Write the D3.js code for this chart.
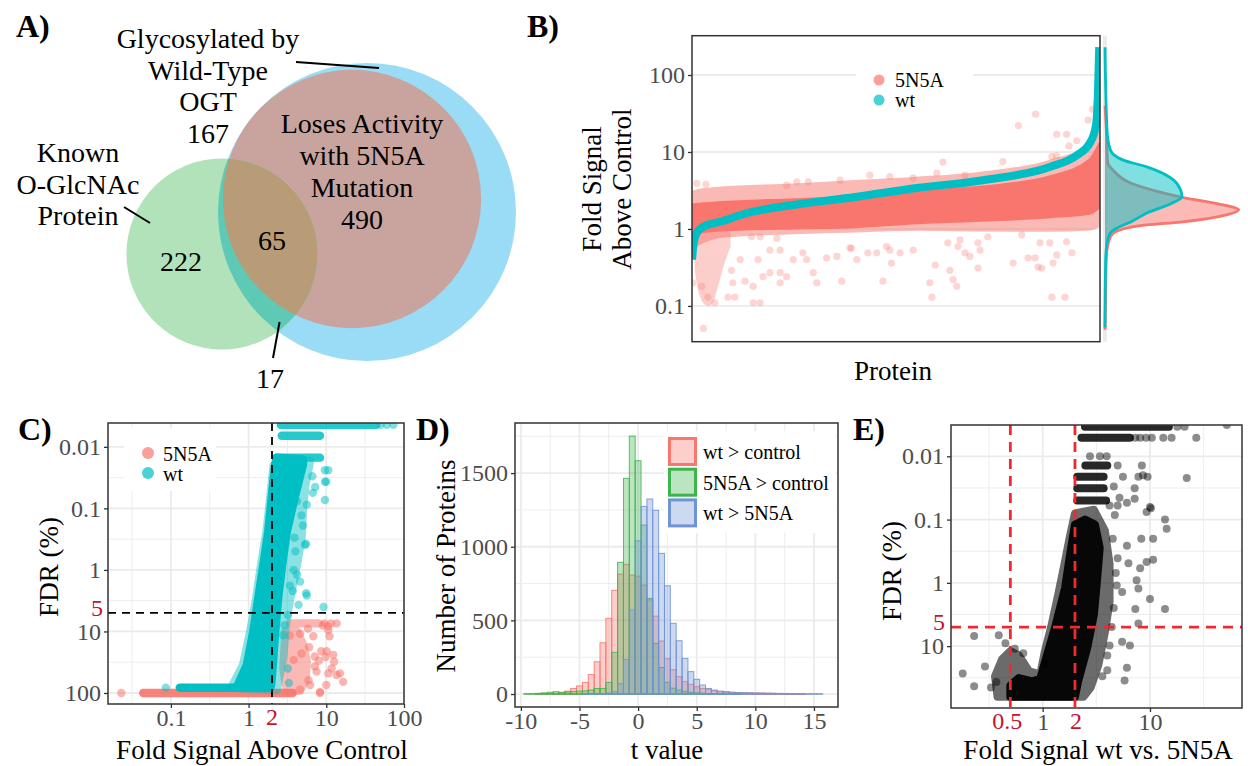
<!DOCTYPE html>
<html>
<head>
<meta charset="utf-8">
<script src="https://cdn.jsdelivr.net/npm/d3@7"></script>
<style>
  body { margin: 0; background: #fff; }
  svg { font-family: "Liberation Serif", "Times New Roman", "DejaVu Serif", serif; }
</style>
</head>
<body>
<svg id="fig" width="1248" height="766"></svg>
<script>
// ---------------- data ----------------
// A) venn region counts: wt only, wt & loses activity, known only, known & loses, known & wt only
const vennCounts = [167, 490, 222, 65, 17];
const vennTitles = [["Glycosylated by", "Wild-Type", "OGT"], ["Loses Activity", "with 5N5A", "Mutation"], ["Known", "O-GlcNAc", "Protein"]];

// B) sorted wt fold signal (protein rank in %, fold)
const wtRank = [0, 0.4, 1.1, 2.8, 6.9, 13.4, 24.8, 40, 55.1, 71.3, 87.7, 94.4, 97.5, 99.0, 99.5, 99.8];
const wtFold = [0.40, 0.65, 0.88, 1.07, 1.24, 1.6, 2.05, 2.6, 3.4, 4.3, 6.4, 9.1, 13, 22, 60, 230];
// 5N5A cloud: dense core and looser fringe (rank, low, high)
const coreRank = [0, 7, 25, 40, 55, 71, 88, 97.5, 100];
const coreLo = [0.89, 0.97, 1.03, 1.07, 1.2, 1.3, 1.44, 1.6, 1.95];
const coreHi = [2.05, 2.2, 2.4, 2.6, 3.05, 3.5, 4.8, 7.9, 13];
const fringeRank = [0, 2, 7, 25, 40, 55, 71, 88, 97.5, 100];
const fringeLo = [0.62, 0.7, 0.85, 0.95, 1.0, 1.05, 1.03, 1.02, 1.06, 1.2];
const fringeHi = [2.8, 3.0, 3.2, 3.5, 3.9, 4.3, 5.0, 7.2, 11.6, 17];
const plumeRank = [1.5, 2.5, 4, 5.5, 7, 8.6];
const plumeLo = [0.3, 0.15, 0.11, 0.18, 0.35, 0.6];
const plumeHi = [0.85, 0.85, 0.85, 0.85, 0.85, 0.85];
const bOutliers = [[1.2,3.9],[3.4,3.8],[2.8,0.051],[0.2,0.20],[2.4,0.18],[3.9,0.13],[5.6,0.11],[8.8,0.13],[10.5,0.13],[10.0,0.20],[9.7,0.29],[11.8,0.40],[13.0,0.21],[15.0,0.18],[15.0,0.11],[16.7,0.11],[16.2,0.40],[17.4,0.24],[19.1,0.27],[21.6,0.27],[21.6,0.20],[23.2,0.24],[19.1,0.53],[21.6,0.53],[24.8,0.40],[27.2,0.49],[28.1,0.40],[29.7,0.27],[30.6,0.20],[33.0,0.42],[35.5,0.44],[36.7,0.21],[39.1,0.56],[40.4,0.40],[16.7,0.79],[20.8,0.76],[25.7,4.1],[28.5,4.1],[23.2,3.7],[36.3,4.3],[14.6,0.79],
  [84.2,31],[80.0,22],[89.4,17],[91.8,17],[94.3,14],[92.4,12],[97.1,26],[98.2,36],[88.2,8.7],[89.4,8.9],[76.2,7.5],[61.5,7.4],[60.0,5.3],[43.6,5.0],[48.5,4.8],[54.2,4.6],[66.9,5.0],
  [38.7,0.57],[43.1,0.49],[45.3,0.49],[47.7,0.59],[48.5,0.53],[51.0,0.49],[54.2,0.53],[48.9,0.36],[46.8,0.21],[58.3,0.20],[58.8,0.13],[59.6,0.34],[63.2,0.29],[64.0,0.22],[64.9,0.18],[62.7,0.66],[65.2,0.59],[65.7,0.72],[66.9,0.49],[68.1,0.44],[70.6,0.53],[70.1,0.31],[70.1,0.66],[72.5,0.79],[78.7,0.36],[80.8,0.84],[82.4,0.42],[84.1,0.42],[84.8,0.32],[85.7,0.31],[85.3,0.66],[87.7,0.66],[88.5,0.36],[89.4,0.46],[91.8,0.68],[93.1,0.49],[88.2,0.13],[91.4,0.13]];
// B) marginal densities (fold, relative density)
const densRedFold = [0.049, 0.16, 0.43, 0.79, 0.97, 1.13, 1.23, 1.52, 1.77, 2.18, 2.6, 2.94, 3.95, 5.8, 7.2, 19.3, 40];
const densRed = [0, 0.005, 0.01, 0.04, 0.11, 0.31, 0.56, 0.90, 0.99, 0.80, 0.56, 0.43, 0.19, 0.06, 0.02, 0.01, 0];
const densWtFold = [0.053, 0.4, 0.66, 0.89, 1.03, 1.23, 1.61, 2.18, 2.6, 3.2, 4.7, 6.4, 7.9, 10.6, 19.3, 230];
const densWt = [0, 0.005, 0.015, 0.04, 0.09, 0.19, 0.31, 0.50, 0.57, 0.56, 0.48, 0.31, 0.13, 0.04, 0.015, 0];
const foldTicks = [0.1, 1, 10, 100];
const foldLabels = ["0.1", "1", "10", "100"];

// C) FDR vs fold (fold, FDR %)
const cBandFdr = [100, 82];          // 5N5A, wt
const cBandFrom = [0.044, 0.13];
const cBandTo = [3.7, 1.1];
const cRedCore = [[3.0,10],[4.2,10],[5.0,16],[5.6,30],[5.4,60],[4.6,92],[3.1,92],[2.8,40]];
const cRedRowFdr = [7.4];
const cRedRowFrom = [3.4];
const cRedRowTo = [8];
const cRedPoints = [[0.023,100],[7.5,45],[13.6,51],[16.5,66],[10.6,48],[8.3,100],[6.2,74],[12.3,24],[10.1,21],[10,74],[15,48],[11.7,40],[10.6,9.5],[13.6,7.4],[4.6,10.9],[3.4,11.7],[4.8,22.8],[3.8,29],[7.1,25.5],[7.1,37],[5.9,62],[4.6,88],[8.3,96],[9,8],[11,12],[6,18],[8,30],[9.5,7.4],[11.5,7.4],[10.5,8.2],[6.8,12],[5.8,9],[8.6,21],[9.8,26],[12.6,31]];
const cWtCore = [[0.70,82],[0.95,35],[1.15,10],[1.33,2.9],[1.55,0.83],[1.79,0.24],[1.98,0.068],[2.19,0.0196],[2.3,0.015],[5.0,0.016],[5.0,0.0196],[3.9,0.068],[3.1,0.24],[2.7,0.83],[2.4,2.9],[2.2,10],[2.05,35],[1.95,74],[1.9,82]];
const cWtFringe = [[0.6,82],[0.85,35],[1.05,10],[1.25,2.9],[1.45,0.83],[1.7,0.24],[1.9,0.068],[2.1,0.02],[6.2,0.017],[5.4,0.04],[5.0,0.1],[4.8,0.3],[4.2,0.8],[3.5,2.5],[3.0,8],[2.8,25],[2.3,90]];
const cWtRowFdr = [0.015, 0.0066, 0.0044];
const cWtRowFrom = [2.3, 2.67, 2.6];
const cWtRowTo = [8.3, 8.3, 44];
const cWtPoints = [[9.6,0.024],[9.6,0.037],[9.6,0.073],[6.7,0.056],[5.6,0.087],[4.2,0.077],[5.0,0.19],[5.3,0.39],[4.6,1.55],[5.6,2.6],[4.4,3.7],[9.2,4.0],[4.2,1.2],[3.7,2.2],[3.2,5.4],[2.9,7.9],[2.8,11.5],[3.2,40],[3.3,69],[0.086,82],[10.6,0.024],[10,0.037],[5.5,0.38],[5.5,2.4],[73,0.0044],[60,0.0044],[50,0.0044],[6.6,0.03],[7.2,0.045],[4.8,0.13],[4.0,0.5],[3.8,1.0],[3.4,1.8],[3.9,0.3]];
const fdrTicks = [0.01, 0.1, 1, 10, 100];
const fdrLabels = ["0.01", "0.1", "1", "10", "100"];
const cFoldTicks = [0.1, 1, 10, 100];
const cFoldLabels = ["0.1", "1", "10", "100"];

// D) t value histograms, bin width 0.5
const histT = [-9.5,-9,-8.5,-8,-7.5,-7,-6.5,-6,-5.5,-5,-4.5,-4,-3.5,-3,-2.5,-2,-1.5,-1,-0.5,0,0.5,1,1.5,2,2.5,3,3.5,4,4.5,5,5.5,6,6.5,7,7.5,8,8.5,9,9.5,10,10.5,11,11.5,12,12.5,13,13.5,14,14.5,15,15.5];
const histWtCtrl = [0,0,1,2,3,5,10,20,38,55,79,132,219,348,514,704,814,880,808,800,740,640,529,360,240,165,118,84,66,50,38,32,23,16,16,12,10,9,8,7,7,6,5,4,3,2,1,1,0,0,0];
const histMutCtrl = [2,3,5,8,12,16,12,14,18,20,22,27,38,38,79,283,894,1464,1751,1584,1147,649,344,180,80,40,27,18,12,8,6,4,3,2,2,1,1,0,0,0,0,0,0,0,0,0,0,0,0,0,0];
const histWtMut = [0,0,0,0,0,0,0,0,0,0,1,1,2,4,8,16,70,235,570,1040,1274,1324,1247,955,735,480,362,242,152,100,61,38,27,20,15,12,10,9,8,7,6,5,5,4,4,3,3,2,2,2,1];
const histNames = ["wt > control", "5N5A > control", "wt > 5N5A"];
const tTicks = [-10, -5, 0, 5, 10, 15];
const countTicks = [0, 500, 1000, 1500];

// E) FDR vs fold wt vs 5N5A
const eCore = [[0.5,63],[0.5,42],[0.6,32],[0.8,36],[0.95,33],[1.05,18],[1.3,5.2],[1.62,1.2],[1.8,0.36],[2.0,0.12],[2.48,0.1],[3.07,0.12],[3.4,0.28],[3.2,0.97],[3.0,3.2],[2.6,10.7],[2.13,37],[2.0,63]];
const eFringe = [[0.38,63],[0.36,30],[0.42,16],[0.5,12],[0.6,14],[0.75,25],[0.95,28],[1.05,12],[1.2,5],[1.4,1.5],[1.6,0.5],[1.8,0.18],[2.0,0.08],[3.0,0.07],[3.8,0.15],[4.2,0.5],[4.2,2],[3.8,6],[3.3,20],[2.8,45],[2.4,63]];
const eRowFdr = [0.0034, 0.0051, 0.014, 0.021, 0.032, 0.05];
const eRowFrom = [2.48, 2.3, 2.5, 2.1, 2.1, 2.1];
const eRowTo = [15, 6.5, 4.0, 3.7, 3.7, 3.9];
const ePoints = [[0.18,27],[0.23,43],[0.23,6.9],[0.39,6.7],[0.29,21],[0.37,37],[0.55,11],[0.66,13],[1.05,19],[6.1,22],[5.8,35],[4.0,24],[6.5,9.8],[5.5,8.5],[4.2,9.8],[7.8,4.4],[7.3,2.6],[13.8,2.6],[10,1.8],[7.5,0.91],[7.8,1.23],[5.5,1.4],[4.9,1.1],[9.3,0.47],[10.7,0.43],[8.1,0.59],[6.3,0.49],[5.0,0.41],[10.7,0.2],[8.3,0.2],[6.1,0.26],[13.8,0.1],[14.3,0.14],[9.3,0.076],[10.2,0.066],[7.2,0.047],[6.1,0.054],[5.0,0.06],[4.2,0.06],[4.7,0.085],[7.2,0.032],[7.8,0.021],[9.5,0.021],[8.4,0.014],[22,0.022],[5.6,0.021],[5.0,0.014],[13.3,0.0051],[27,0.0051],[10.4,0.0051],[52,0.0032],[2.76,0.01],[3.42,0.01],[3.95,0.01],[7.3,0.0051],[8.1,0.0051],[9.2,0.0051],[15.9,0.0051],[18,0.0034],[21,0.0034],[8.6,0.02],[10,0.063],[4.6,0.03],[5.2,0.045],[4.5,0.2],[4.8,0.7],[4.6,2.5],[4.4,5],[4.0,14],[3.6,30],[0.45,9],[0.33,45]];
const eFdrTicks = [0.01, 0.1, 1, 10];
const eFdrLabels = ["0.01", "0.1", "1", "10"];
const eFoldTicks = [1, 10];
const eFoldLabels = ["1", "10"];

// ---------------- drawing ----------------
const serif = '"Liberation Serif", "Times New Roman", "DejaVu Serif", serif';
const red = "#F8766D", teal = "#00BFC4", thr = "#c4122f";
const gridCol = "#ebebeb";
const tickSize = 24, titleSize = 27;
const svg = d3.select("#fig").attr("font-family", serif);
const defs = svg.append("defs");

function clip(id, x0, x1, y0, y1) {
  defs.append("clipPath").attr("id", id).append("rect")
    .attr("x", x0).attr("y", y0).attr("width", x1 - x0).attr("height", y1 - y0);
  return svg.append("g").attr("clip-path", "url(#" + id + ")");
}

function grid(scale, values, horiz, from, to, w) {
  svg.append("g").selectAll("line").data(values).join("line")
    .attr(horiz ? "y1" : "x1", d => scale(d)).attr(horiz ? "y2" : "x2", d => scale(d))
    .attr(horiz ? "x1" : "y1", from).attr(horiz ? "x2" : "y2", to)
    .attr("stroke", gridCol).attr("stroke-width", w);
}

function border(x0, x1, y0, y1) {
  svg.append("rect").attr("x", x0).attr("y", y0).attr("width", x1 - x0).attr("height", y1 - y0)
    .attr("fill", "none").attr("stroke", "#333").attr("stroke-width", 1.5);
}

function styleAxis(ax) {
  ax.attr("font-family", serif).attr("font-size", tickSize);
  ax.select(".domain").remove();
  ax.selectAll(".tick line").attr("stroke", "#333").attr("stroke-width", 1.3);
  ax.selectAll(".tick text").attr("fill", "#4d4d4d");
}

function leftAxis(scale, x, values, labels) {
  const ax = svg.append("g").attr("transform", "translate(" + x + ",0)")
    .call(d3.axisLeft(scale).tickValues(values).tickFormat((d, i) => labels[i]).tickSize(4).tickPadding(3));
  styleAxis(ax);
}

function bottomAxis(scale, y, values, labels) {
  const ax = svg.append("g").attr("transform", "translate(0," + y + ")")
    .call(d3.axisBottom(scale).tickValues(values).tickFormat((d, i) => labels[i]).tickSize(4).tickPadding(1));
  styleAxis(ax);
}

function label(x, y, s, size, opts) {
  opts = opts || {};
  const t = svg.append("text").attr("x", x).attr("y", y).text(s)
    .attr("font-family", serif)
    .attr("font-size", size).attr("fill", opts.fill || "#000")
    .attr("text-anchor", opts.anchor || "middle")
    .attr("font-weight", opts.bold ? "bold" : null);
  if (opts.rotate) t.attr("x", null).attr("y", null)
    .attr("transform", "translate(" + x + "," + y + ") rotate(-90)");
  return t;
}

function blob(g, xs, ys, pts, color, w, op) {
  g.append("g").attr("opacity", op).append("path")
    .attr("d", d3.line().x(d => xs(d[0])).y(d => ys(d[1])).curve(d3.curveLinearClosed)(pts))
    .attr("fill", color).attr("stroke", color).attr("stroke-width", w).attr("stroke-linejoin", "round");
}

function rows(g, xs, ys, fdr, from, to, color, w, op) {
  g.append("g").selectAll("line").data(fdr).join("line")
    .attr("x1", (d, i) => xs(from[i])).attr("x2", (d, i) => xs(to[i]))
    .attr("y1", d => ys(d)).attr("y2", d => ys(d))
    .attr("stroke", color).attr("stroke-width", w).attr("stroke-linecap", "round").attr("stroke-opacity", op);
}

function dots(g, xs, ys, pts, color, r, op) {
  g.append("g").selectAll("circle").data(pts).join("circle")
    .attr("cx", d => xs(d[0])).attr("cy", d => ys(d[1])).attr("r", r)
    .attr("fill", color).attr("fill-opacity", op);
}

function minorLog(values) {
  return values.slice(0, -1).map((v, i) => Math.sqrt(v * values[i + 1]));
}

// ---- A) Venn ----
const wtTotal = vennCounts[0] + vennCounts[1] + vennCounts[3] + vennCounts[4];
const lossTotal = vennCounts[1] + vennCounts[3];
const knownTotal = vennCounts[2] + vennCounts[3] + vennCounts[4];
const rV = d3.scaleSqrt().domain([0, wtTotal]).range([0, 149]);
const cWt = { x: 367, y: 212, r: rV(wtTotal) };
const cLoss = { x: 352, y: 199, r: rV(lossTotal) };
const cKnown = { x: 222, y: 254, r: rV(knownTotal) };
defs.append("clipPath").attr("id", "vWt").append("circle").attr("cx", cWt.x).attr("cy", cWt.y).attr("r", cWt.r);
defs.append("clipPath").attr("id", "vLoss").append("circle").attr("cx", cLoss.x).attr("cy", cLoss.y).attr("r", cLoss.r);
const venn = svg.append("g");
[[cWt, "#9ADCF5", null], [cLoss, "#C9A49E", null], [cKnown, "#B2E2B9", null],
 [cKnown, "#5ECAB6", "vWt"], [cKnown, "#B89C77", "vLoss"]].forEach(([c, f, cp]) => {
  venn.append("circle").attr("cx", c.x).attr("cy", c.y).attr("r", c.r).attr("fill", f)
    .attr("clip-path", cp ? "url(#" + cp + ")" : null);
});
const vennSize = 28;
vennTitles[0].concat([String(vennCounts[0])]).forEach((s, i) => label(208, 48 + i * 31.7, s, vennSize));
vennTitles[1].concat([String(vennCounts[1])]).forEach((s, i) => label(362, 133 + i * 32, s, vennSize));
vennTitles[2].forEach((s, i) => label(78, 162 + i * 31.5, s, vennSize));
label(181, 271, String(vennCounts[2]), vennSize);
label(272, 250, String(vennCounts[3]), vennSize);
label(270, 388, String(vennCounts[4]), vennSize);
[[296, 62, 379, 68], [124, 207, 150, 223], [279.6, 322, 273, 358]].forEach(l => {
  svg.append("line").attr("x1", l[0]).attr("y1", l[1]).attr("x2", l[2]).attr("y2", l[3])
    .attr("stroke", "#000").attr("stroke-width", 2);
});
label(16, 37, "A)", 32, { anchor: "start", bold: true });

// ---- B) ----
const xB = d3.scaleLinear().domain([0, 100]).range([692, 1100]);
const yB = d3.scaleLog().domain([0.0343, 324]).range([341.7, 35.7]);
grid(yB, foldTicks, true, 692, 1100, 1.8);
svg.append("rect").attr("x", 1103).attr("y", 35.7).attr("width", 4).attr("height", 306).attr("fill", gridCol);
const gB = clip("clipB", 692, 1100, 35.7, 341.7);
const bandArea = (rk, lo, hi) => d3.area().x((d, i) => xB(rk[i])).y0((d, i) => yB(lo[i])).y1((d, i) => yB(hi[i])).curve(d3.curveMonotoneX)(rk);
[[fringeRank, fringeLo, fringeHi, 0.5, 7], [plumeRank, plumeLo, plumeHi, 0.35, 7]].forEach(([rk, lo, hi, op, w]) => {
  gB.append("g").attr("opacity", op).append("path").attr("d", bandArea(rk, lo, hi))
    .attr("fill", red).attr("stroke", red).attr("stroke-width", w).attr("stroke-linejoin", "round");
});
dots(gB, xB, yB, bOutliers, red, 3.6, 0.3);
gB.append("path").attr("d", bandArea(coreRank, coreLo, coreHi)).attr("fill", red)
  .attr("stroke", red).attr("stroke-width", 3);
gB.append("path")
  .attr("d", d3.line().x((d, i) => xB(wtRank[i])).y((d, i) => yB(wtFold[i])).curve(d3.curveMonotoneX)(wtRank))
  .attr("fill", "none").attr("stroke", teal).attr("stroke-width", 8);
border(692, 1100, 35.7, 341.7);
leftAxis(yB, 692, foldTicks, foldLabels);
// legend
svg.append("rect").attr("x", 856).attr("y", 61).attr("width", 117).attr("height", 56).attr("fill", "#fff");
[[red, "5N5A", 80], [teal, "wt", 100]].forEach(([c, s, y]) => {
  svg.append("circle").attr("cx", 879).attr("cy", y).attr("r", 5.5).attr("fill", c).attr("fill-opacity", 0.7);
  label(895, y + 7, s, 20, { anchor: "start" });
});
// marginal density
const xDen = d3.scaleLinear().domain([0, 1]).range([1105, 1240]);
[[densRedFold, densRed, red], [densWtFold, densWt, teal]].forEach(([f, dn, c]) => {
  const pts = f.map((v, i) => [v, dn[i]]);
  svg.append("path")
    .attr("d", d3.area().y(d => yB(d[0])).x0(xDen(0)).x1(d => xDen(d[1])).curve(d3.curveMonotoneY)(pts))
    .attr("fill", c).attr("fill-opacity", 0.5);
  svg.append("path")
    .attr("d", d3.line().y(d => yB(d[0])).x(d => xDen(d[1])).curve(d3.curveMonotoneY)(pts))
    .attr("fill", "none").attr("stroke", c).attr("stroke-width", 2.8);
});
label(601, 189, "Fold Signal", titleSize, { rotate: true });
label(631, 189, "Above Control", titleSize, { rotate: true });
label(893, 380, "Protein", titleSize);
label(527, 37, "B)", 32, { anchor: "start", bold: true });

// ---- C) ----
const xC = d3.scaleLog().domain([0.0155, 100]).range([108, 404]);
const yC = d3.scaleLog().domain([0.0041, 151]).range([423, 704]);
grid(yC, minorLog(fdrTicks), true, 108, 404, 0.9);
grid(xC, [0.0316].concat(minorLog(cFoldTicks)), false, 423, 704, 0.9);
grid(yC, fdrTicks, true, 108, 404, 1.8);
grid(xC, cFoldTicks, false, 423, 704, 1.8);
svg.append("rect").attr("x", 124).attr("y", 428).attr("width", 92).attr("height", 63).attr("fill", "#fff");
const gC = clip("clipC", 108, 404, 423, 704);
rows(gC, xC, yC, [cBandFdr[0]], [cBandFrom[0]], [cBandTo[0]], red, 8.4, 0.9);
blob(gC, xC, yC, cRedCore, red, 8.4, 0.5);
rows(gC, xC, yC, cRedRowFdr, cRedRowFrom, cRedRowTo, red, 8.4, 0.55);
dots(gC, xC, yC, cRedPoints, red, 4.2, 0.55);
rows(gC, xC, yC, [cBandFdr[1]], [cBandFrom[1]], [cBandTo[1]], teal, 8.4, 1);
blob(gC, xC, yC, cWtFringe, teal, 8.4, 0.45);
blob(gC, xC, yC, cWtCore, teal, 8.4, 1);
rows(gC, xC, yC, cWtRowFdr, cWtRowFrom, cWtRowTo, teal, 8.4, 0.85);
dots(gC, xC, yC, cWtPoints, teal, 4.2, 0.5);
[[[2, 2], [0.0041, 151]], [[0.0155, 100], [5, 5]]].forEach(([xs, ys]) => {
  svg.append("line").attr("x1", xC(xs[0])).attr("x2", xC(xs[1])).attr("y1", yC(ys[0])).attr("y2", yC(ys[1]))
    .attr("stroke", "#000").attr("stroke-width", 1.8).attr("stroke-dasharray", "8,6");
});
border(108, 404, 423, 704);
leftAxis(yC, 108, fdrTicks, fdrLabels);
bottomAxis(xC, 704, cFoldTicks, cFoldLabels);
label(103, yC(5) + 3, "5", tickSize, { anchor: "end", fill: thr });
label(xC(2), 725, "2", tickSize, { fill: thr });
[[red, "5N5A", 453], [teal, "wt", 473]].forEach(([c, s, y]) => {
  svg.append("circle").attr("cx", 148).attr("cy", y).attr("r", 6).attr("fill", c).attr("fill-opacity", 0.7);
  label(163, y + 7.5, s, 20, { anchor: "start" });
});
label(58, 567, "FDR (%)", titleSize, { rotate: true });
label(262, 759, "Fold Signal Above Control", titleSize);
label(18, 440, "C)", 32, { anchor: "start", bold: true });

// ---- D) ----
const xD = d3.scaleLinear().domain([-10.5, 17.05]).range([515, 838]);
const yD = d3.scaleLinear().domain([-88, 1840]).range([707, 423]);
grid(yD, [250, 750, 1250, 1750], true, 515, 838, 0.9);
grid(xD, [-7.5, -2.5, 2.5, 7.5, 12.5], false, 423, 707, 0.9);
grid(yD, countTicks, true, 515, 838, 1.8);
grid(xD, tTicks, false, 423, 707, 1.8);
const histCols = ["#F8766D", "#3DB54A", "#6F93D3"];
const gD = clip("clipD", 515, 838, 423, 707);
[histWtCtrl, histMutCtrl, histWtMut].forEach((counts, s) => {
  const g = gD.append("g");
  const nz = histT.filter((t, i) => counts[i] > 0);
  g.append("line").attr("x1", xD(nz[0] - 0.25)).attr("x2", xD(nz[nz.length - 1] + 0.25))
    .attr("y1", yD(0)).attr("y2", yD(0)).attr("stroke", histCols[s]).attr("stroke-opacity", 0.85);
  g.selectAll("rect").data(nz).join("rect")
    .attr("x", t => xD(t - 0.25)).attr("width", t => xD(t + 0.25) - xD(t - 0.25))
    .attr("y", t => yD(counts[histT.indexOf(t)]))
    .attr("height", t => yD(0) - yD(counts[histT.indexOf(t)]))
    .attr("fill", histCols[s]).attr("fill-opacity", 0.35)
    .attr("stroke", histCols[s]).attr("stroke-opacity", 0.85).attr("stroke-width", 1);
});
svg.append("rect").attr("x", 664).attr("y", 431).attr("width", 172).attr("height", 102).attr("fill", "#fff");
histNames.forEach((s, i) => {
  const y = 437 + i * 30.7;
  svg.append("rect").attr("x", 669.5).attr("y", y + 1.5).attr("width", 26).attr("height", 26)
    .attr("fill", histCols[i]).attr("fill-opacity", 0.35).attr("stroke", histCols[i]).attr("stroke-width", 3);
  label(703, y + 22, s, 20, { anchor: "start" });
});
border(515, 838, 423, 707);
leftAxis(yD, 515, countTicks, countTicks.map(String));
bottomAxis(xD, 707, tTicks, tTicks.map(String));
label(455, 566, "Number of Proteins", titleSize, { rotate: true });
label(667, 759, "t value", titleSize);
label(416, 440, "D)", 32, { anchor: "start", bold: true });

// ---- E) ----
const xE = d3.scaleLog().domain([0.14, 72]).range([951, 1242]);
const yE = d3.scaleLog().domain([0.0032, 95]).range([425, 708]);
grid(yE, minorLog(fdrTicks), true, 951, 1242, 0.9);
grid(xE, minorLog([0.1, 1, 10, 100]), false, 425, 708, 0.9);
grid(yE, eFdrTicks, true, 951, 1242, 1.8);
grid(xE, eFoldTicks, false, 425, 708, 1.8);
const gE = clip("clipE", 951, 1242, 425, 708);
blob(gE, xE, yE, eFringe, "#111", 8, 0.62);
blob(gE, xE, yE, eCore, "#070707", 8, 1);
rows(gE, xE, yE, eRowFdr, eRowFrom, eRowTo, "#111", 8, 0.9);
dots(gE, xE, yE, ePoints, "#000", 4, 0.45);
const thrE = "#ee2a2e";
[[[0.5, 0.5], [0.0032, 95]], [[2, 2], [0.0032, 95]], [[0.14, 72], [5, 5]]].forEach(([xs, ys]) => {
  svg.append("line").attr("x1", xE(xs[0])).attr("x2", xE(xs[1])).attr("y1", yE(ys[0])).attr("y2", yE(ys[1]))
    .attr("stroke", thrE).attr("stroke-width", 2.8).attr("stroke-dasharray", "10,7");
});
border(951, 1242, 425, 708);
leftAxis(yE, 951, eFdrTicks, eFdrLabels);
bottomAxis(xE, 708, eFoldTicks, eFoldLabels);
label(945, yE(5) + 3, "5", tickSize, { anchor: "end", fill: thr });
label(xE(0.5) - 3, 729, "0.5", tickSize, { fill: thr });
label(xE(2) + 1, 729, "2", tickSize, { fill: thr });
label(901, 571, "FDR (%)", titleSize, { rotate: true });
label(1098, 759, "Fold Signal wt vs. 5N5A", titleSize);
label(853, 440, "E)", 32, { anchor: "start", bold: true });
</script>
</body>
</html>
